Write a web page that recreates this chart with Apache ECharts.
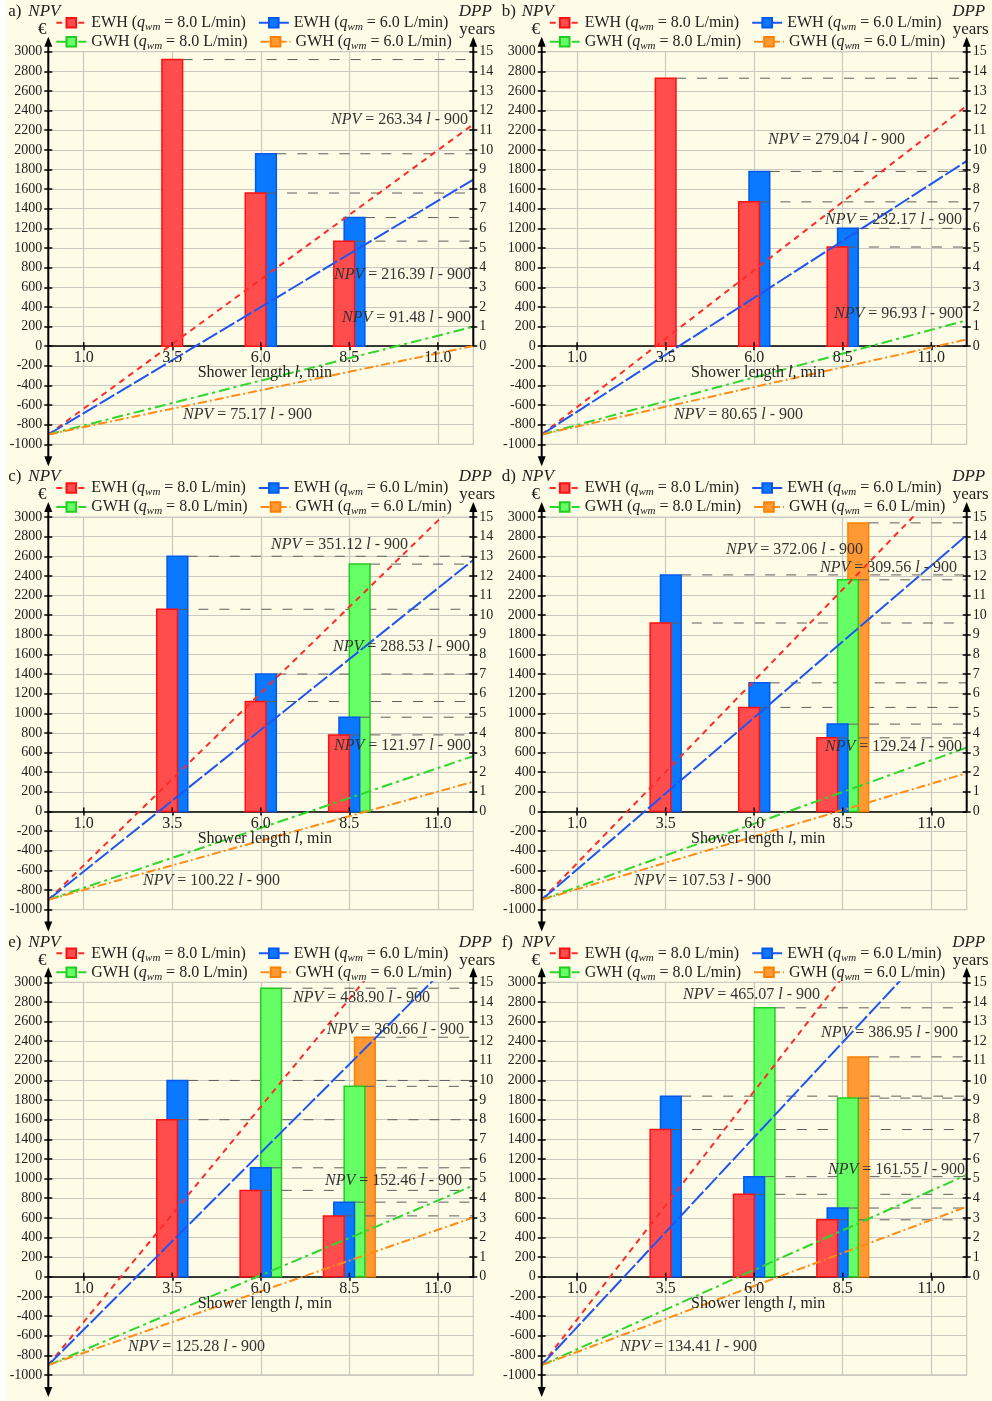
<!DOCTYPE html>
<html><head><meta charset="utf-8">
<script src="https://cdn.jsdelivr.net/npm/echarts@6/dist/echarts.min.js"></script>
<style>html,body{margin:0;padding:0;background:#fff;}#c{position:absolute;left:0;top:0;width:992px;height:1401px;}</style>
</head><body><div id="c"></div>
<script>
// ---------------- DATA ----------------
const panelLetters = ['a)', 'b)', 'c)', 'd)', 'e)', 'f)'];
const seriesKeys = ['EWH8', 'EWH6', 'GWH8', 'GWH6'];
const heaterLabels = ['EWH', 'EWH', 'GWH', 'GWH'];
const flowLabels = ['8.0', '6.0', '8.0', '6.0'];
const barLengths = [3.5, 6.0, 8.5];           // shower length l, min (bar positions)
const xTickValues = [1.0, 3.5, 6.0, 8.5, 11.0];
const dppTickValues = [0,1,2,3,4,5,6,7,8,9,10,11,12,13,14,15];
const npvIntercept = -900;
const lengthRange = [0, 12];
// NPV slopes (NPV = slope * l - 900), per panel a..f
const slopeEWH8 = [263.34, 279.04, 351.12, 372.06, 438.90, 465.07];
const slopeEWH6 = [216.39, 232.17, 288.53, 309.56, 360.66, 386.95];
const slopeGWH8 = [91.48, 96.93, 121.97, 129.24, 152.46, 161.55];
const slopeGWH6 = [75.17, 80.65, 100.22, 107.53, 125.28, 134.41];
// DPP (years) at l = 3.5, 6.0, 8.5, per panel a..f
const dppEWH8 = [[14.6, 7.8, 5.35], [13.65, 7.35, 5.05], [10.3, 5.6, 3.9], [9.6, 5.3, 3.75], [8.0, 4.4, 3.1], [7.5, 4.2, 2.9]];
const dppEWH6 = [[null, 9.8, 6.55], [null, 8.9, 6.0], [13.0, 7.0, 4.8], [12.05, 6.55, 4.45], [10.0, 5.55, 3.8], [9.2, 5.1, 3.5]];
const dppGWH8 = [[null, null, null], [null, null, null], [null, null, 12.6], [null, null, 11.8], [null, 14.7, 9.7], [null, 13.7, 9.1]];
const dppGWH6 = [[null, null, null], [null, null, null], [null, null, null], [null, null, 14.7], [null, null, 12.2], [null, null, 11.2]];

// ---------------- STYLE / LAYOUT ----------------
const slopes = [slopeEWH8, slopeEWH6, slopeGWH8, slopeGWH6];
const dpps = [dppEWH8, dppEWH6, dppGWH8, dppGWH6];
const GRID_X = [48.3, 541.7], GRID_Y = [51.7, 517.0, 982.3], GRID_W = 425, GRID_H = 392.6;
const FONT = 'Liberation Serif';
const lineColors = ['#ff2a2a', '#1f55f0', '#2ed62e', '#ff8c1a'];
const fillColors = ['#ff4d4d', '#0a78ff', '#66ff66', '#ff9933'];
const borderColors = ['#ff1010', '#0058ee', '#1fcc1f', '#ff8000'];
const dashTypes = [[6, 5], [17, 3], [11, 4, 3, 4], [9, 3, 2, 3]];
const BAR_W_L = 0.584;
const gridGray = '#c9c9c2';
const annotPos = [
  [[419.7, 68.3, 'right'], [422.7, 223.3, 'right'], [422.7, 266.3, 'right'], [134.7, 363.3, 'left']],
  [[226.3, 88.3, 'left'], [420.3, 168.3, 'right'], [421.3, 262.3, 'right'], [132.3, 363.3, 'left']],
  [[222.7, 27.3, 'left'], [421.7, 129.7, 'right'], [422.7, 229, 'right'], [94.7, 364, 'left']],
  [[321.3, 32.5, 'right'], [415.3, 51, 'right'], [420.3, 230, 'right'], [92.3, 364, 'left']],
  [[244.7, 15.4, 'left'], [415.7, 47.7, 'right'], [413.7, 198.7, 'right'], [79.7, 364.7, 'left']],
  [[141.3, 12.7, 'left'], [416.3, 50.7, 'right'], [423.3, 187.7, 'right'], [78.3, 364.7, 'left']]
];

const chart = echarts.init(document.getElementById('c'), null, {renderer: 'canvas', width: 992, height: 1401});

const grids = [], xAxes = [], yAxes = [], series = [], legends = [];
const richLegend = {
  n: {fontFamily: FONT, fontSize: 16, color: '#222'},
  i: {fontFamily: FONT, fontSize: 16, fontStyle: 'italic', color: '#222'},
  s: {fontFamily: FONT, fontSize: 11, fontStyle: 'italic', color: '#222', verticalAlign: 'bottom', lineHeight: 20}
};
function legendFormatter(name) {
  const k = seriesKeys.indexOf(name);
  return '{n|' + heaterLabels[k] + ' (}{i|q}{s|wm}{n| = ' + flowLabels[k] + ' L/min)}';
}

for (let p = 0; p < 6; p++) {
  const col = p % 2, row = Math.floor(p / 2);
  const gx = GRID_X[col], gy = GRID_Y[row];
  grids.push({left: gx, top: gy, width: GRID_W, height: GRID_H, show: true, borderColor: gridGray, borderWidth: 1.2, backgroundColor: 'transparent'});
  xAxes.push({
    type: 'value', gridIndex: p, min: lengthRange[0], max: lengthRange[1], position: 'bottom',
    axisLine: {show: true, onZero: true, onZeroAxisIndex: p * 4, lineStyle: {color: '#000', width: 1.5}},
    axisTick: {show: true, customValues: xTickValues, length: 4, lineStyle: {color: '#000', width: 1.5}},
    axisLabel: {show: false, customValues: xTickValues},
    splitLine: {show: true, lineStyle: {color: gridGray, width: 1.2}}
  });
  yAxes.push({
    type: 'value', gridIndex: p, position: 'left', min: -1000, max: 3000, interval: 200,
    axisLine: {show: false}, axisTick: {show: true, length: 4, lineStyle: {color: '#000', width: 1.5}},
    axisLabel: {formatter: v => String(v), fontFamily: FONT, fontSize: 14, color: '#222', margin: 6},
    splitLine: {show: true, lineStyle: {color: gridGray, width: 1.2}}
  });
  yAxes.push({
    type: 'value', gridIndex: p, position: 'left', min: -1000, max: 3000, interval: 200,
    axisLine: {show: false}, axisTick: {show: true, inside: true, length: 4, lineStyle: {color: '#000', width: 1.5}},
    axisLabel: {show: false}, splitLine: {show: false}
  });
  yAxes.push({
    type: 'value', gridIndex: p, position: 'right', min: -5, max: 15, interval: 1,
    axisLine: {show: false}, axisTick: {show: true, customValues: dppTickValues, length: 4, lineStyle: {color: '#000', width: 1.5}},
    axisLabel: {customValues: dppTickValues, formatter: v => (v < 0 ? '' : String(v)), fontFamily: FONT, fontSize: 14, color: '#222', margin: 6},
    splitLine: {show: false}
  });
  yAxes.push({
    type: 'value', gridIndex: p, position: 'right', min: -5, max: 15, interval: 1,
    axisLine: {show: false}, axisTick: {show: true, inside: true, customValues: dppTickValues, length: 4, lineStyle: {color: '#000', width: 1.5}},
    axisLabel: {show: false}, splitLine: {show: false}
  });

  // bars (custom): draw order orange, green, blue, red (red in front)
  const barData = [];
  barLengths.forEach((l, li) => {
    const present = [];
    for (let k = 0; k < 4; k++) if (dpps[k][p][li] != null) present.push(k);
    const n = present.length;
    for (let k = 3; k >= 0; k--) {
      const slot = present.indexOf(k);
      if (slot < 0) continue;
      barData.push([l, dpps[k][p][li], slot - (n - 1) / 2, k]);
    }
  });
  series.push({
    type: 'custom', xAxisIndex: p, yAxisIndex: p * 4 + 2, z: 3, silent: true,
    encode: {x: 0, y: 1},
    data: barData,
    renderItem: function (params, api) {
      const l = api.value(0), d = api.value(1), off = api.value(2), k = api.value(3);
      const base = api.coord([l, 0]);
      const top = api.coord([l, d]);
      const w = api.size([BAR_W_L, 0])[0];
      const cx = base[0] + off * w / 2;
      const cs = params.coordSys;
      return {type: 'group', children: [
        {type: 'rect', shape: {x: cx - w / 2, y: top[1], width: w, height: base[1] - top[1]},
          style: {fill: fillColors[k], stroke: borderColors[k], lineWidth: 1.5}},
        {type: 'line', shape: {x1: cx + w / 2, y1: top[1], x2: cs.x + cs.width, y2: top[1]},
          style: {stroke: '#5e5e5e', lineWidth: 1, lineDash: [10, 11]}}
      ]};
    }
  });
  for (let k = 0; k < 4; k++) {
    const s = slopes[k][p];
    series.push({
      name: seriesKeys[k], type: 'line', xAxisIndex: p, yAxisIndex: p * 4, z: 5, silent: true,
      symbol: 'rect', symbolSize: 11, showSymbol: false, clip: true,
      data: [[lengthRange[0], s * lengthRange[0] + npvIntercept], [lengthRange[1], s * lengthRange[1] + npvIntercept]],
      lineStyle: {color: lineColors[k], width: 2, type: dashTypes[k]},
      itemStyle: {color: fillColors[k], borderColor: borderColors[k], borderWidth: 1}
    });
  }
  [[0, 1], [2, 3]].forEach((pair, r) => {
    legends.push({
      show: true, selectedMode: false, orient: 'horizontal',
      left: gx + 7, top: gy - 37 + r * 19, itemGap: 12, itemWidth: 30, itemHeight: 12, padding: 0,
      data: pair.map(k => seriesKeys[k]),
      formatter: legendFormatter,
      textStyle: {fontFamily: FONT, fontSize: 16, color: '#222', rich: richLegend}
    });
  });
}

chart.setOption({
  backgroundColor: '#fefce6',
  animation: false,
  textStyle: {fontFamily: FONT},
  grid: grids, xAxis: xAxes, yAxis: yAxes, series: series, legend: legends
});

// ---------------- decorations (axis lines, arrows, x labels, titles, equations) ----------------
const gfx = [];
gfx.push({type: 'rect', shape: {x: 0, y: 0, width: 6, height: 1401}, style: {fill: '#ffffff'}, z: 0, silent: true});
function arrow(x, y, dir) {
  const h = 10, hw = 4;
  const pts = dir < 0 ? [[x, y], [x - hw, y + h], [x + hw, y + h]] : [[x, y], [x - hw, y - h], [x + hw, y - h]];
  return {type: 'polygon', shape: {points: pts}, style: {fill: '#000'}, z: 100, silent: true};
}
for (let p = 0; p < 6; p++) {
  const px = v => chart.convertToPixel({xAxisIndex: p, yAxisIndex: p * 4}, v);
  const pTop = px([lengthRange[0], 3000]), pBot = px([lengthRange[0], -1000]);
  const rTop = px([lengthRange[1], 3000]), rZero = px([lengthRange[1], 0]);
  const gx = pTop[0], gy = pTop[1];
  gfx.push({type: 'line', shape: {x1: gx, y1: gy - 12, x2: gx, y2: pBot[1] + 19}, style: {stroke: '#000', lineWidth: 2}, z: 100, silent: true});
  gfx.push(arrow(gx, gy - 15, -1));
  gfx.push(arrow(gx, pBot[1] + 22, 1));
  gfx.push({type: 'line', shape: {x1: rTop[0], y1: rTop[1] - 12, x2: rZero[0], y2: rZero[1]}, style: {stroke: '#000', lineWidth: 2}, z: 100, silent: true});
  gfx.push(arrow(rTop[0], rTop[1] - 15, -1));
  xTickValues.forEach(v => {
    const t = px([v, 0]);
    gfx.push({type: 'line', shape: {x1: t[0], y1: t[1], x2: t[0], y2: t[1] - 4}, style: {stroke: '#000', lineWidth: 1.5}, z: 100, silent: true});
    gfx.push({type: 'text', z: 100, silent: true, style: {text: v.toFixed(1), x: t[0], y: t[1] + 4, align: 'center', verticalAlign: 'top', font: '16px "Liberation Serif"', fill: '#222'}});
  });
  const mid = px([(lengthRange[0] + lengthRange[1]) / 2, 0]);
  gfx.push({type: 'text', z: 100, silent: true, style: {
    text: '{n|Shower length }{i|l}{n|, min}', x: mid[0] + 4, y: mid[1] + 27, align: 'center', verticalAlign: 'middle',
    rich: {n: {fontFamily: FONT, fontSize: 16, fill: '#222', color: '#222'}, i: {fontFamily: FONT, fontSize: 16, fontStyle: 'italic', fill: '#222', color: '#222'}}
  }});
  const tStyle = {font: '17px "Liberation Serif"', fill: '#222', verticalAlign: 'middle'};
  gfx.push({type: 'text', z: 100, silent: true, style: Object.assign({}, tStyle, {text: panelLetters[p], x: gx - 40, y: gy - 40, align: 'left'})});
  gfx.push({type: 'text', z: 100, silent: true, style: Object.assign({}, tStyle, {text: 'NPV', font: 'italic 17px "Liberation Serif"', x: gx - 20, y: gy - 40, align: 'left'})});
  gfx.push({type: 'text', z: 100, silent: true, style: Object.assign({}, tStyle, {text: '€', x: gx - 6, y: gy - 22, align: 'center'})});
  gfx.push({type: 'text', z: 100, silent: true, style: Object.assign({}, tStyle, {text: 'DPP', font: 'italic 17px "Liberation Serif"', x: rTop[0] + 2, y: gy - 40, align: 'center'})});
  gfx.push({type: 'text', z: 100, silent: true, style: Object.assign({}, tStyle, {text: 'years', x: rTop[0] + 4, y: gy - 22, align: 'center'})});
  for (let k = 0; k < 4; k++) {
    const a = annotPos[p][k];
    gfx.push({type: 'text', z: 101, silent: true, style: {
      text: '{i|NPV}{n| = ' + slopes[k][p].toFixed(2) + ' }{i|l}{n| - 900}',
      rich: {i: {fontFamily: FONT, fontSize: 16, fontStyle: 'italic', fill: '#333', color: '#333'}, n: {fontFamily: FONT, fontSize: 16, fill: '#333', color: '#333'}},
      x: gx + a[0], y: gy + a[1], align: a[2], verticalAlign: 'middle', fill: '#333'
    }});
  }
}
chart.setOption({graphic: gfx});
</script></body></html>
